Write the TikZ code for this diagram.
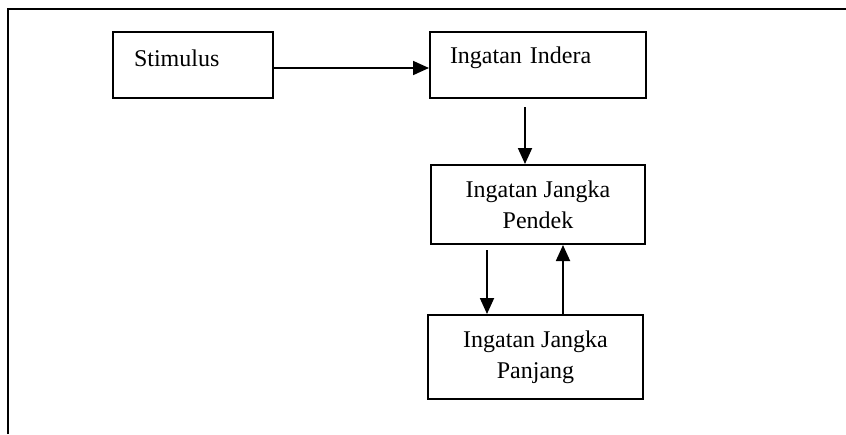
\documentclass[tikz,border=0pt]{standalone}
\usepackage{fontspec}
\setmainfont{Liberation Serif}
\usetikzlibrary{arrows.meta,positioning}

\begin{document}
\begin{tikzpicture}[x=0.5pt,y=-0.5pt,
  box/.style={draw,line width=1pt,inner ysep=0pt,font=\fontsize{12}{15.5}\selectfont},
  arr/.style={-{Triangle[length=8pt,width=7pt]},line width=0.9pt}]
\useasboundingbox (0,0) rectangle (846,434);
% Frame
\draw[line width=0.9pt] (8,434) -- (8,9) -- (846,9);

% Top row
\node[box,inner xsep=10.5pt,text width=59pt,minimum height=33pt,align=left] (stim) at (193,65)
  {\raisebox{3.5pt}[\height][\depth]{Stimulus}};
\node[box,inner xsep=10pt,text width=88pt,minimum height=33pt,align=left] (indera) at (538,65)
  {\raisebox{3.5pt}[\height][\depth]{Ingatan Indera}};

% Memory boxes
\node[box,minimum width=107pt,minimum height=39.5pt,align=center] (pendek) at (538,204.5)
  {Ingatan Jangka\\Pendek};
\node[box,minimum width=107.5pt,minimum height=42pt,align=center] (panjang) at (535.5,357)
  {Ingatan Jangka\\Panjang};

% Arrows
\draw[arr] ([yshift=-1.5pt]stim.east) -- ([yshift=-1.5pt]indera.west);
\draw[arr] ([xshift=-6.5pt,yshift=-4pt]indera.south) -- ([xshift=-6.5pt]pendek.north);
\draw[arr] ([xshift=-25.5pt,yshift=-2.5pt]pendek.south) -- ([xshift=-24.25pt]panjang.north);
\draw[arr] ([xshift=13.75pt]panjang.north) -- ([xshift=12.5pt]pendek.south);
\end{tikzpicture}
\end{document}
